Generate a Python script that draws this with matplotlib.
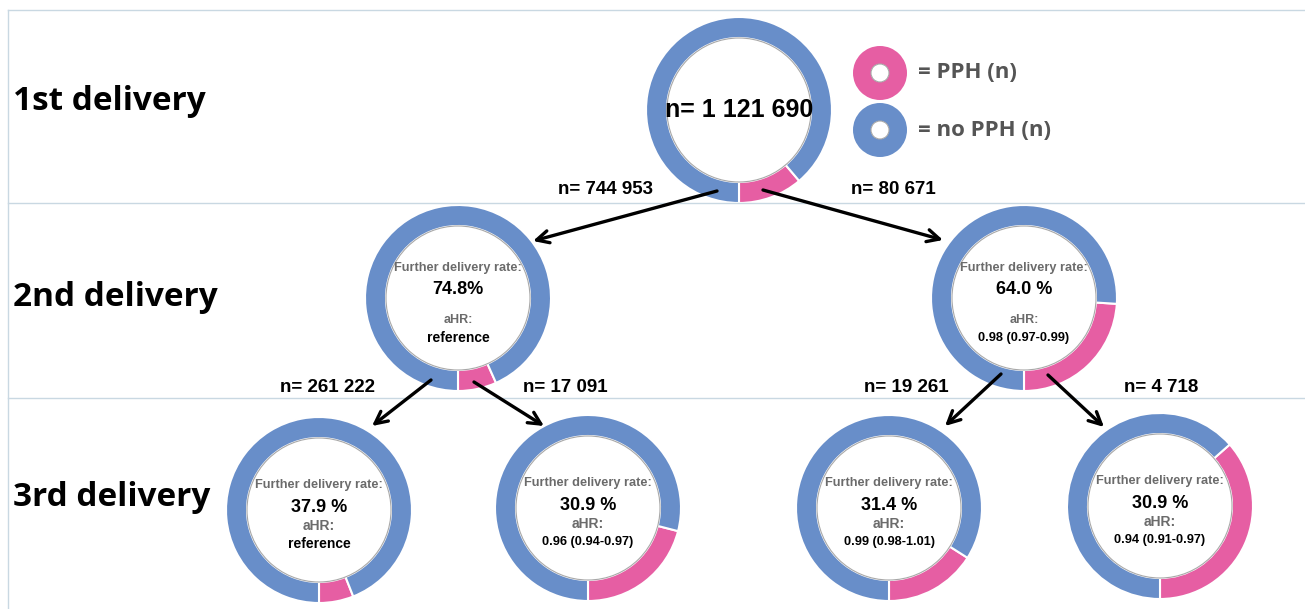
import matplotlib.pyplot as plt
from matplotlib.patches import Circle

# Data
rows = ['1st delivery', '2nd delivery', '3rd delivery']
ring_n = ['n= 1 121 690', None, None, None, None, None, None]
pph_pct = [11.2, 6.7, 24.0, 6.0, 21.0, 16.0, 36.5]          # share of ring in pink (PPH)
rate = [None, '74.8%', '64.0 %', '37.9 %', '30.9 %', '31.4 %', '30.9 %']
ahr = [None, 'reference', '0.98 (0.97-0.99)', 'reference',
       '0.96 (0.94-0.97)', '0.99 (0.98-1.01)', '0.94 (0.91-0.97)']
branch_n = ['n= 744 953', 'n= 80 671', 'n= 261 222', 'n= 17 091', 'n= 19 261', 'n= 4 718']

BLUE = '#688ec9'
PINK = '#e65ea3'
GREY = '#6b6b6b'
LINE = '#c9d8e2'
H = 609

def Y(y):
    return H - y

# layout in pixel coordinates (x, y from top)
centers = [(739, 110), (458, 298), (1024, 298), (319, 510), (588, 508), (889, 508), (1160, 506)]
R, W = 93, 21

fig = plt.figure(figsize=(13.05, 6.09), dpi=100)
ax = fig.add_axes([0, 0, 1, 1])

for i, (cx, cy) in enumerate(centers):
    p = pph_pct[i]
    ax.pie([p, 100 - p], colors=[PINK, BLUE], startangle=270, counterclock=True,
           center=(cx, Y(cy)), radius=R,
           wedgeprops=dict(width=W, edgecolor='white', linewidth=1.5))
    ax.add_patch(Circle((cx, Y(cy)), R - W, facecolor='none', edgecolor='#a8a8a8', lw=0.8))
    if ring_n[i]:
        ax.text(cx, Y(cy), ring_n[i], ha='center', va='center', fontsize=18,
                fontweight='bold', family='Liberation Sans')
        continue
    off = [-30, -8, 22, 40] if i < 3 else [-25, -3, 16, 34]
    ax.text(cx, Y(cy + off[0]), 'Further delivery rate:', ha='center', va='center',
            fontsize=9.2, fontweight='bold', color=GREY, family='Liberation Sans')
    ax.text(cx, Y(cy + off[1]), rate[i], ha='center', va='center',
            fontsize=13, fontweight='bold', color='black', family='Liberation Sans')
    ax.text(cx, Y(cy + off[2]), 'aHR:', ha='center', va='center',
            fontsize=10 if i >= 3 else 9, fontweight='bold', color=GREY, family='Liberation Sans')
    ax.text(cx, Y(cy + off[3]), ahr[i], ha='center', va='center',
            fontsize=10 if ahr[i] == 'reference' else 9.2, fontweight='bold',
            color='black', family='Liberation Sans')

# legend donuts
for (lx, ly), col, lab in [((880, 73), PINK, '= PPH (n)'), ((880, 130), BLUE, '= no PPH (n)')]:
    ax.pie([1], colors=[col], center=(lx, Y(ly)), radius=27,
           wedgeprops=dict(width=18, edgecolor='none'))
    ax.add_patch(Circle((lx, Y(ly)), 9, facecolor='white', edgecolor='#a8a8a8', lw=0.8))
    ax.text(918, Y(ly), lab, ha='left', va='center', fontsize=16, fontweight='bold',
            color='#555555', family='Open Sans')

# arrows
arrows = [((717, 191), (533, 241)), ((763, 190), (943, 240)),
          ((431, 380), (372, 426)), ((474, 382), (544, 426)),
          ((1001, 374), (945, 426)), ((1048, 375), (1104, 427))]
for (x0, y0), (x1, y1) in arrows:
    ax.annotate('', xy=(x1, Y(y1)), xytext=(x0, Y(y0)),
                arrowprops=dict(arrowstyle='->', lw=2.4, color='black',
                                mutation_scale=22, shrinkA=0, shrinkB=0))

label_pos = [(605, 190), (893, 190), (327, 387), (565, 387), (906, 387), (1161, 387)]
for (x, y), t in zip(label_pos, branch_n):
    ax.text(x, Y(y), t, ha='center', va='center', fontsize=13.5, fontweight='bold',
            family='Liberation Sans')

# row grid and labels
for y in [10, 203, 398]:
    ax.plot([8, 1305], [Y(y), Y(y)], color=LINE, lw=1)
ax.plot([8, 8], [Y(10), 0], color=LINE, lw=1)
for y, t in zip([102, 298, 497], rows):
    ax.text(13, Y(y), t, ha='left', va='center', fontsize=24, fontweight='bold',
            family='Open Sans')

ax.set_xlim(0, 1305)
ax.set_ylim(0, H)
ax.set_aspect('auto')
ax.axis('off')

fig.savefig('out.png', dpi=100)
